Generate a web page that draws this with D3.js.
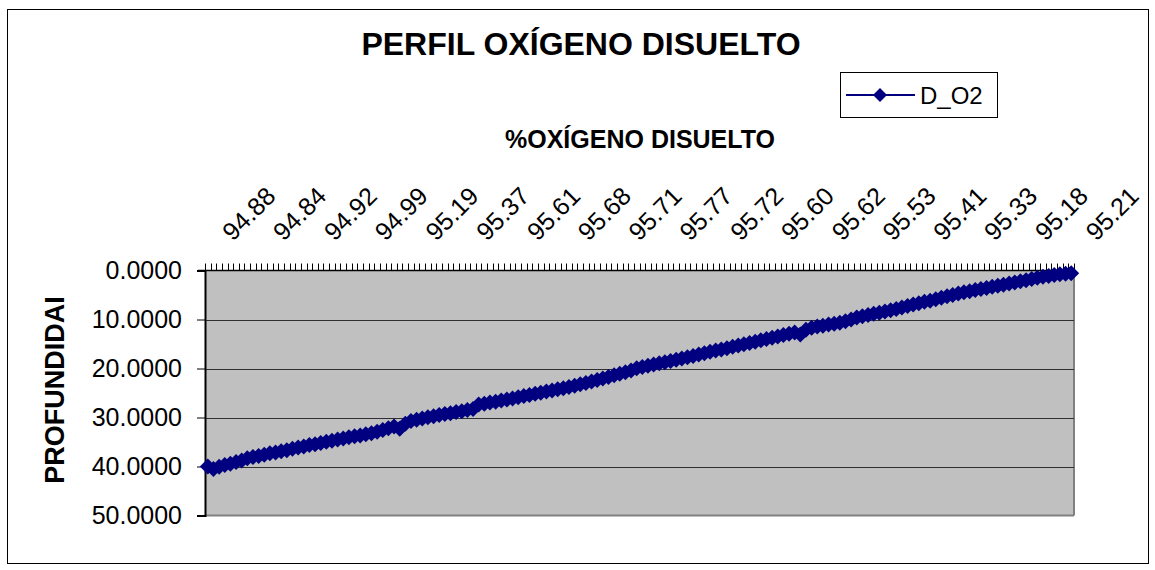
<!DOCTYPE html>
<html>
<head>
<meta charset="utf-8">
<script src="https://cdn.jsdelivr.net/npm/d3@7"></script>
<style>
  body { margin: 0; background: #fff; }
  text { font-family: "Liberation Sans", Arial, sans-serif; }
</style>
</head>
<body>
<div id="chart"></div>
<script>
// depth (m) for each sample, left to right along the category axis
var depth = [
  40.00, 40.50, 40.05, 39.70, 39.45, 39.10, 38.80, 38.30, 38.05,
  37.85, 37.60, 37.30, 37.15, 36.90, 36.70, 36.40, 36.10,
  35.90, 35.60, 35.45, 35.20, 34.95, 34.75, 34.50, 34.30, 34.05,
  33.85, 33.65, 33.40, 33.20, 32.90, 32.55,
  32.20, 31.85, 32.30, 31.30, 30.70, 30.45, 30.20,
  29.95, 29.75, 29.50, 29.30, 29.15, 28.90, 28.70, 28.45, 28.25,
  27.35, 27.20, 26.95, 26.80, 26.55, 26.35, 26.10, 25.85,
  25.60, 25.40, 25.15, 24.95, 24.70, 24.50, 24.25, 24.05, 23.80,
  23.50, 23.20, 22.95, 22.65, 22.35, 22.05, 21.75, 21.40, 21.05,
  20.75, 20.40, 19.95,
  19.70, 19.45, 19.20, 18.95, 18.70, 18.45, 18.20, 17.95, 17.70,
  17.45, 17.15, 16.90, 16.60, 16.35, 16.10, 15.85, 15.55, 15.30,
  15.05, 14.80, 14.55, 14.25, 14.00, 13.70, 13.45, 13.15, 12.90,
  12.65, 13.05, 12.10, 11.70,
  11.45, 11.25, 11.00, 10.85, 10.65,
  10.35, 10.00, 9.60,
  9.35, 9.10, 8.85, 8.60, 8.35, 8.10, 7.85, 7.55, 7.25,
  6.95, 6.70, 6.40, 6.15, 5.85, 5.55, 5.25, 5.00, 4.70,
  4.45, 4.25, 4.00, 3.75, 3.55, 3.30, 3.10, 2.90, 2.65,
  2.45, 2.20, 2.00, 1.75, 1.50, 1.30, 1.10, 0.90,
  0.75, 0.65, 0.55
];

// %O2 labels shown on the category axis (every 9th sample)
var oxygenLabels = ["94.88", "94.84", "94.92", "94.99", "95.19", "95.37", "95.61", "95.68", "95.71",
                    "95.77", "95.72", "95.60", "95.62", "95.53", "95.41", "95.33", "95.18", "95.21"];
var labelStep = 9;

var yTicks = [0, 10, 20, 30, 40, 50];

var svgWidth = 1155, svgHeight = 570;
var plot = { left: 205, right: 1074, top: 270.5, bottom: 515.5 };
var navy = "#000080";

var svg = d3.select("#chart").append("svg")
    .attr("width", svgWidth)
    .attr("height", svgHeight);

// outer chart frame
svg.append("rect")
    .attr("x", 7.5).attr("y", 9.5)
    .attr("width", 1141).attr("height", 554)
    .attr("fill", "#fff").attr("stroke", "#000");

var cats = d3.range(depth.length);

var x = d3.scaleBand()
    .domain(cats)
    .range([plot.left, plot.right])
    .padding(0);

var y = d3.scaleLinear()
    .domain([0, 50])
    .range([plot.top, plot.bottom]);

// plot area
svg.append("rect")
    .attr("x", plot.left).attr("y", plot.top)
    .attr("width", plot.right - plot.left).attr("height", plot.bottom - plot.top)
    .attr("fill", "#c0c0c0");

svg.append("line")
    .attr("x1", plot.right).attr("x2", plot.right)
    .attr("y1", plot.top).attr("y2", plot.bottom)
    .attr("stroke", "#808080").attr("stroke-width", 2);
svg.append("line")
    .attr("x1", plot.left).attr("x2", plot.right)
    .attr("y1", plot.bottom).attr("y2", plot.bottom)
    .attr("stroke", "#808080").attr("stroke-width", 2);

// gridlines
svg.append("g").selectAll("line")
    .data(yTicks.slice(1, -1))
    .enter().append("line")
    .attr("x1", plot.left).attr("x2", plot.right)
    .attr("y1", d => Math.round(y(d)) + 0.5).attr("y2", d => Math.round(y(d)) + 0.5)
    .attr("stroke", "#303030");

// left axis
var leftAxis = d3.axisLeft(y)
    .tickValues(yTicks)
    .tickFormat(d3.format(".4f"))
    .tickSize(8)
    .tickPadding(15);

var gy = svg.append("g")
    .attr("transform", `translate(${plot.left}, 0)`)
    .call(leftAxis);
gy.select(".domain").attr("stroke", "#000").attr("stroke-width", 2);
gy.selectAll("text")
    .attr("font-size", 25)
    .attr("fill", "#000")
    .style("font-family", "'Liberation Sans', Arial, sans-serif");

// top category axis: line + a tick at every category boundary
svg.append("line")
    .attr("x1", plot.left - 7).attr("x2", plot.right)
    .attr("y1", plot.top).attr("y2", plot.top)
    .attr("stroke", "#000").attr("stroke-width", 1.5);

var bounds = cats.map(d => x(d)).concat([plot.right]);
svg.append("g").selectAll("line")
    .data(bounds)
    .enter().append("line")
    .attr("x1", d => Math.round(d) + 0.5).attr("x2", d => Math.round(d) + 0.5)
    .attr("y1", plot.top).attr("y2", plot.top - 7)
    .attr("stroke", "#000");

svg.append("g").selectAll("text")
    .data(oxygenLabels)
    .enter().append("text")
    .attr("transform", (d, i) => `translate(${x(i * labelStep) + x.bandwidth() / 2 + 25}, 242) rotate(-45)`)
    .attr("font-size", 25)
    .attr("fill", "#000")
    .text(d => d);

// series line + diamond markers
var line = d3.line()
    .x((d, i) => x(i) + x.bandwidth() / 2)
    .y(d => y(d));

svg.append("path")
    .datum(depth)
    .attr("d", line)
    .attr("fill", "none")
    .attr("stroke", navy)
    .attr("stroke-width", 2);

var diamond = "M0,-8L8,0L0,8L-8,0Z";
svg.append("g").selectAll("path")
    .data(depth)
    .enter().append("path")
    .attr("d", diamond)
    .attr("transform", (d, i) => `translate(${x(i) + x.bandwidth() / 2}, ${y(d)})`)
    .attr("fill", navy);

// titles
svg.append("text")
    .attr("x", 581).attr("y", 55)
    .attr("text-anchor", "middle")
    .attr("font-size", 32).attr("font-weight", "bold")
    .text("PERFIL OXÍGENO DISUELTO");

svg.append("text")
    .attr("x", 640).attr("y", 148)
    .attr("text-anchor", "middle")
    .attr("font-size", 25).attr("font-weight", "bold")
    .text("%OXÍGENO DISUELTO");

svg.append("text")
    .attr("transform", "translate(64, 390) rotate(-90)")
    .attr("text-anchor", "middle")
    .attr("font-size", 27).attr("font-weight", "bold")
    .text("PROFUNDIDAI");

// legend
var legend = svg.append("g");
legend.append("rect")
    .attr("x", 840.5).attr("y", 72.5)
    .attr("width", 157).attr("height", 45)
    .attr("fill", "#fff").attr("stroke", "#000");
legend.append("line")
    .attr("x1", 846).attr("x2", 915)
    .attr("y1", 95).attr("y2", 95)
    .attr("stroke", navy).attr("stroke-width", 2);
legend.append("path")
    .attr("d", "M0,-7L7,0L0,7L-7,0Z")
    .attr("transform", "translate(880, 95)")
    .attr("fill", navy);
legend.append("text")
    .attr("x", 920).attr("y", 104)
    .attr("font-size", 24)
    .text("D_O2");
</script>
</body>
</html>
